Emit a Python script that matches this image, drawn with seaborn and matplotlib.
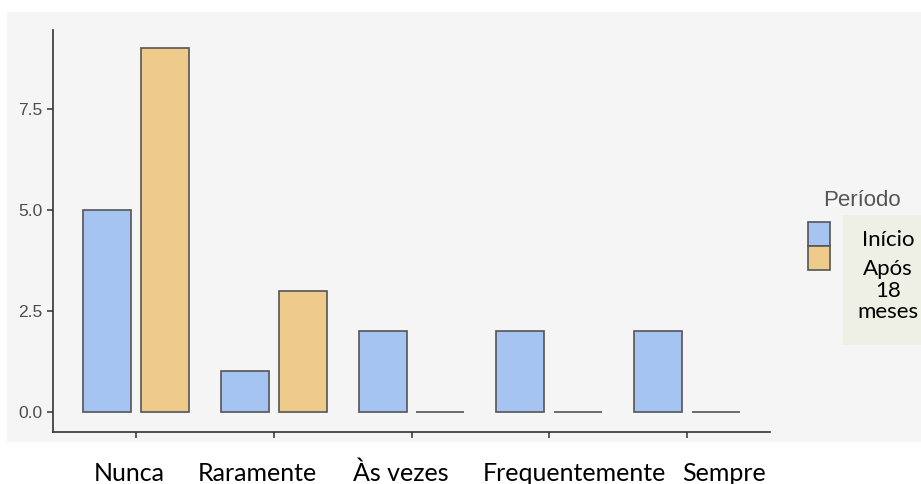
import matplotlib
matplotlib.use("Agg")
import matplotlib.pyplot as plt
import matplotlib.patches as mpatches
import matplotlib.transforms as mtrans
import seaborn as sns
import pandas as pd

# dados
categorias = ["Nunca", "Raramente", "Às vezes", "Frequentemente", "Sempre"]
inicio = [5, 1, 2, 2, 2]
apos_18 = [9, 3, 0, 0, 0]
periodos = ["Início", "Após 18 meses"]
cores = ["#a6c4f2", "#efcb8b"]
yticks = [0.0, 2.5, 5.0, 7.5]

df = pd.DataFrame({
    "Resposta": categorias * 2,
    "Contagem": inicio + apos_18,
    "Período": [periodos[0]] * len(categorias) + [periodos[1]] * len(categorias),
})

W, H = 921, 484


def fx(px):
    return px / W


def fy(py):
    return 1 - py / H


sns.set_style("white")
fig = plt.figure(figsize=(W / 100, H / 100), dpi=100)
fig.patch.set_facecolor("white")

# fundo cinza do painel
fig.add_artist(mpatches.Rectangle((fx(7), fy(442)), fx(W - 7), 430 / H,
                                  transform=fig.transFigure, facecolor="#f5f5f5",
                                  edgecolor="none", zorder=-2))

ax = fig.add_axes([fx(53), fy(432), fx(770 - 53), 402 / H])
ax.set_facecolor("none")

sns.barplot(data=df, x="Resposta", y="Contagem", hue="Período", order=categorias,
            hue_order=periodos, palette=cores, saturation=1, width=0.84, gap=0.17,
            edgecolor="#555555", linewidth=1.2, errorbar=None, legend=False, ax=ax)

ax.set_xlim(-0.6, 4.6)
ax.set_ylim(-0.5, 9.45)
ax.set_yticks(yticks)
ax.set_yticklabels([f"{v:.1f}" for v in yticks])
ax.set_xlabel("")
ax.set_ylabel("")

for side in ["top", "right"]:
    ax.spines[side].set_visible(False)
for side in ["left", "bottom"]:
    ax.spines[side].set_color("#333333")
    ax.spines[side].set_linewidth(1.2)

ax.tick_params(axis="y", direction="out", length=4, width=1.1, color="#333333",
               labelcolor="#4d4d4d", labelsize=12.5, left=True)
ax.tick_params(axis="x", direction="out", length=4, width=1.1, color="#333333",
               labelcolor="black", labelsize=18, bottom=True, pad=26)
for lab in ax.get_yticklabels():
    lab.set_fontfamily("Liberation Sans")

# rótulos das categorias deslocados como no original
desloc = [-6, -16, -11, 25, 37]
for lab, dx in zip(ax.get_xticklabels(), desloc):
    lab.set_fontfamily("Lato")
    lab.set_verticalalignment("center")
    lab.set_transform(lab.get_transform() +
                      mtrans.ScaledTranslation(dx / 100, 0, fig.dpi_scale_trans))

# legenda
fig.text(fx(862), fy(201), "Período", ha="center", va="center", fontsize=16,
         color="#555555", family="Liberation Sans")
fig.add_artist(mpatches.Rectangle((fx(843), fy(345)), fx(W - 843), 130 / H,
                                  transform=fig.transFigure, facecolor="#eef0e6",
                                  edgecolor="none", zorder=-1))
for i, cor in enumerate(cores):
    fig.add_artist(mpatches.Rectangle((fx(808), fy(246 + 24 * i)), fx(22), 24 / H,
                                      transform=fig.transFigure, facecolor=cor,
                                      edgecolor="#555555", linewidth=1.2))
fig.text(fx(888), fy(240), "Início", ha="center", va="center", fontsize=16,
         color="black", family="Lato")
fig.text(fx(888), fy(259), "Após\n18\nmeses", ha="center", va="top", fontsize=16,
         color="black", family="Lato", linespacing=1.1)

fig.savefig("out.png", dpi=100)
